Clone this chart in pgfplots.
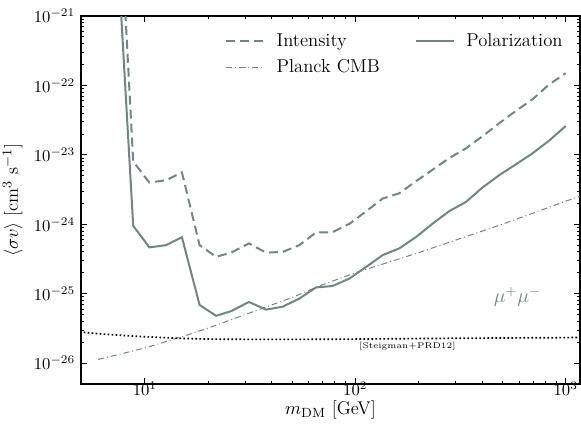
\documentclass[border=0pt]{standalone}
\usepackage{pgfplots}
\pgfplotsset{compat=1.18}
\definecolor{lc}{RGB}{112,133,133}
\begin{document}
\begin{tikzpicture}
\begin{axis}[
  scale only axis, width=299.4pt, height=220.8pt,
  xmode=log, ymode=log,
  xmin=4.97, xmax=1170, ymin=5e-27, ymax=1e-21,
  xtick={10,100,1000}, ytick={1e-26,1e-25,1e-24,1e-23,1e-22,1e-21},
  tick align=inside, major tick length=3.6pt, minor tick length=2pt,
  axis line style={line width=0.8pt},
  every tick/.style={black, line width=0.5pt},
  xticklabel style={yshift=4.5pt},
  xlabel={$m_{\mathrm{DM}}$ [GeV]},
  ylabel={$\langle\sigma v\rangle$ [cm$^3$ s$^{-1}$]},
  label style={font=\fontsize{11}{13}\selectfont},
  xlabel style={yshift=4pt},
  legend columns=2,
  legend cell align=left,
  legend style={draw=none, fill=none, at={(0.278,0.972)}, anchor=north west,
    font=\fontsize{11.2}{13}\selectfont,
    /tikz/row sep=2.5pt,
    /tikz/every odd column/.append style={column sep=5pt},
    /tikz/every even column/.append style={column sep=19pt}},
  legend image code/.code={\draw[#1] plot coordinates {(0cm,0cm) (0.4cm,0cm) (0.8cm,0cm)};},
]
\addplot[lc, line width=1.2pt, dash pattern=on 5.4pt off 3pt] coordinates {
(7.33,3e-19) (8.8,8e-24) (10.5,4.0e-24) (12.6,4.3e-24) (15.0,5.6e-24)
(18.2,5.0e-25) (21.8,3.4e-25) (25.7,3.9e-25) (31.2,5.3e-25) (37.7,3.9e-25)
(45.2,4.0e-25) (54.2,5.0e-25) (65,7.6e-25) (78,7.7e-25) (94,1.02e-24)
(113,1.55e-24) (135,2.35e-24) (162,2.8e-24) (195,4.2e-24) (233,6.1e-24)
(280,9e-24) (336,1.24e-23) (403,1.86e-23) (483,2.85e-23) (580,4.3e-23)
(695,6.3e-23) (834,1.03e-22) (1000,1.5e-22)};
\addlegendentry{Intensity}
\addplot[lc, line width=1.2pt] coordinates {
(7.33,1.6e-20) (8.8,9.5e-25) (10.5,4.65e-25) (12.6,5.0e-25) (15.0,6.5e-25)
(18.2,6.9e-26) (21.8,4.8e-26) (25.7,5.6e-26) (31.2,7.6e-26) (37.7,5.9e-26)
(45.2,6.5e-26) (54.2,8.5e-26) (65,1.23e-25) (78,1.29e-25) (94,1.66e-25)
(113,2.45e-25) (135,3.6e-25) (162,4.5e-25) (195,6.6e-25) (233,1.02e-24)
(280,1.55e-24) (336,2.1e-24) (403,3.4e-24) (483,5.1e-24) (580,7.3e-24)
(695,1.05e-23) (834,1.6e-23) (1000,2.6e-23)};
\addlegendentry{Polarization}
\addplot[lc, line width=0.6pt, dash pattern=on 3.6pt off 1.8pt on 0.6pt off 1.8pt] coordinates {
(6,1.13e-26) (10,1.65e-26) (15,2.4e-26) (20,3.2e-26) (30,5e-26) (50,8.8e-26)
(70,1.35e-25) (100,2.0e-25) (200,3.9e-25) (500,1.0e-24) (1000,2.15e-24) (1200,2.6e-24)};
\addlegendentry{Planck CMB}
\addplot[black, line width=1pt, dash pattern=on 1pt off 1.4pt, forget plot] coordinates {
(4.9,2.82e-26) (6,2.65e-26) (8,2.5e-26) (10,2.4e-26) (15,2.27e-26) (20,2.22e-26)
(30,2.2e-26) (60,2.2e-26) (100,2.22e-26) (300,2.28e-26) (1000,2.33e-26) (1200,2.34e-26)};
\node[font=\tiny] at (axis cs:177,1.72e-26) {[Steigman+PRD12]};
\node[text=lc, font=\large] at (axis cs:590,8.9e-26) {$\mu^+\mu^-$};
\end{axis}
\pgfresetboundingbox
\path ([shift={(-48.6pt,-26.4pt)}]current axis.south west) rectangle ([shift={(0.6pt,9.6pt)}]current axis.north east);
\end{tikzpicture}
\end{document}
